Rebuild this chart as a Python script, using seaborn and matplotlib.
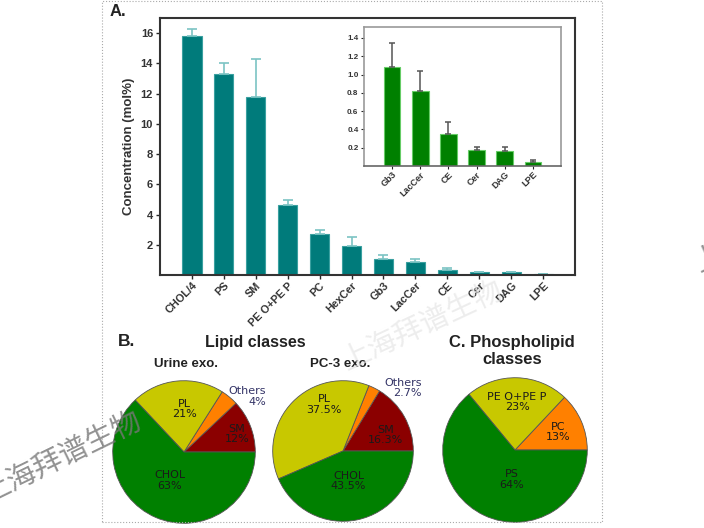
import numpy as np
import matplotlib
matplotlib.use('Agg')
import matplotlib.pyplot as plt
import seaborn as sns
from matplotlib.patches import Rectangle

sns.set_style('white')
plt.rcParams['font.family'] = ['Liberation Sans', 'DejaVu Sans']

# panel A data
lipids = ['CHOL/4', 'PS', 'SM', 'PE O+PE P', 'PC', 'HexCer', 'Gb3', 'LacCer', 'CE', 'Cer', 'DAG', 'LPE']
conc = [15.8, 13.27, 11.78, 4.62, 2.68, 1.95, 1.07, 0.85, 0.36, 0.18, 0.17, 0.04]
conc_err = [0.46, 0.75, 2.5, 0.33, 0.32, 0.55, 0.27, 0.22, 0.13, 0.03, 0.04, 0.02]

minor = ['Gb3', 'LacCer', 'CE', 'Cer', 'DAG', 'LPE']
minor_conc = [1.08, 0.82, 0.35, 0.175, 0.165, 0.04]
minor_err = [0.26, 0.22, 0.13, 0.035, 0.045, 0.022]

# panel B / C data
urine_labels = ['SM\n12%', 'Others\n4%', 'PL\n21%', 'CHOL\n63%']
urine_vals = [12, 4, 21, 63]
pc3_labels = ['SM\n16.3%', 'Others\n2.7%', 'PL\n37.5%', 'CHOL\n43.5%']
pc3_vals = [16.3, 2.7, 37.5, 43.5]
pl_labels = ['PC\n13%', 'PE O+PE P\n23%', 'PS\n64%']
pl_vals = [13, 23, 64]

teal = '#007b7b'
green = '#008000'
olive = '#c8c800'
orange = '#ff8000'
darkred = '#8b0000'

W, H = 704, 528
fig = plt.figure(figsize=(W / 100, H / 100), dpi=100)


def px_axes(left, top, right, bottom):
    return fig.add_axes([left / W, 1 - bottom / H, (right - left) / W, (bottom - top) / H])


# dotted outer frame
fig.patches.append(Rectangle((102 / W, 6 / H), 500 / W, 521 / H, transform=fig.transFigure,
                             fill=False, ls=':', lw=0.8, ec='#aaaaaa'))

# ---- main bars
ax = px_axes(160, 18, 575, 275)
sns.barplot(x=lipids, y=conc, color=teal, width=0.6, saturation=1,
            edgecolor='#3aa0a0', linewidth=0.8, ax=ax)
ax.errorbar(np.arange(len(lipids)), conc, yerr=[np.zeros(len(conc)), conc_err],
            fmt='none', ecolor='#7cc4c4', elinewidth=1.2, capsize=3.5, capthick=1.2, zorder=1)
ax.set_xlim(-1, len(lipids))
ax.set_ylim(0, 17)
ax.set_yticks(range(2, 17, 2))
ax.set_yticks(np.arange(0, 17, 0.5), minor=True)
ax.tick_params(axis='y', which='major', direction='out', length=3, width=1, labelsize=8, pad=2)
ax.tick_params(axis='y', which='minor', direction='out', length=1.5, width=0.8)
ax.tick_params(axis='x', direction='out', length=3, width=1, labelsize=7.8, pad=1)
ax.tick_params(left=True, bottom=True)
for lab in ax.get_yticklabels():
    lab.set_fontweight('bold')
    lab.set_color('#333333')
ax.set_xticks(range(len(lipids)))
ax.set_xticklabels(lipids, rotation=45, ha='right', rotation_mode='anchor',
                   fontweight='bold', color='#333333')
ax.set_ylabel('Concentration (mol%)', fontsize=9.5, fontweight='bold', color='#333333', labelpad=4)
for s in ax.spines.values():
    s.set_color('#333333')
    s.set_linewidth(1.5)
fig.text(110 / W, 1 - 12 / H, 'A.', fontsize=12, fontweight='bold', va='center', color='#222222')

# ---- inset
axi = px_axes(364, 27, 561, 166)
sns.barplot(x=minor, y=minor_conc, color=green, width=0.59, saturation=1,
            edgecolor='#66cc66', linewidth=0.8, ax=axi)
axi.errorbar(np.arange(len(minor)), minor_conc, yerr=[np.zeros(len(minor)), minor_err],
             fmt='none', ecolor='#555555', elinewidth=1.1, capsize=2.5, capthick=1.1, zorder=1)
axi.set_xlim(-1, len(minor))
axi.set_ylim(0, 1.52)
axi.set_yticks(np.arange(0.2, 1.41, 0.2))
axi.set_yticklabels(['%.1f' % v for v in np.arange(0.2, 1.41, 0.2)])
axi.set_yticks(np.arange(0, 1.51, 0.05), minor=True)
axi.tick_params(axis='y', which='major', direction='out', length=2, width=0.8, labelsize=5.8, pad=2)
axi.tick_params(axis='y', which='minor', direction='out', length=1, width=0.6)
axi.tick_params(axis='x', direction='out', length=2, width=0.8, labelsize=6.5, pad=1)
axi.tick_params(left=True, bottom=True)
for lab in axi.get_yticklabels():
    lab.set_fontweight('bold')
    lab.set_color('#333333')
axi.set_xticks(range(len(minor)))
axi.set_xticklabels(minor, rotation=45, ha='right', rotation_mode='anchor',
                    fontweight='bold', color='#333333')
for s in axi.spines.values():
    s.set_color('#999999')
    s.set_linewidth(1.2)
axi.spines['bottom'].set_color('#666666')


# ---- pies
def draw_pie(cx, cy, r, vals, labels, colors, label_pos, label_ha, label_color):
    axp = px_axes(cx - r, cy - r, cx + r, cy + r)
    axp.pie(vals, colors=colors, startangle=0, counterclock=True,
            wedgeprops=dict(edgecolor='#555555', linewidth=0.6))
    axp.set_xlim(-1.01, 1.01)
    axp.set_ylim(-1.01, 1.01)
    for lab, (tx, ty), ha, c in zip(labels, label_pos, label_ha, label_color):
        axp.text(tx, ty, lab, ha=ha, va='center', fontsize=8, color=c,
                 family='DejaVu Sans', linespacing=1.05)
    return axp


dark = '#1a1a1a'
navy = '#333366'
draw_pie(184, 452, 72, urine_vals, urine_labels, [darkred, orange, olive, green],
         [(0.74, 0.25), (1.15, 0.78), (0.01, 0.6), (-0.2, -0.4)],
         ['center', 'right', 'center', 'center'], [dark, navy, dark, dark])
draw_pie(343, 451, 71, pc3_vals, pc3_labels, [darkred, orange, olive, green],
         [(0.6, 0.23), (1.12, 0.9), (-0.27, 0.66), (0.08, -0.43)],
         ['center', 'right', 'center', 'center'], [dark, navy, dark, dark])
draw_pie(515, 450, 73, pl_vals, pl_labels, [orange, olive, green],
         [(0.59, 0.25), (0.03, 0.66), (-0.04, -0.41)],
         ['center', 'center', 'center'], [dark, dark, dark])

fig.text(118 / W, 1 - 341 / H, 'B.', fontsize=12.5, fontweight='bold', va='center', color='#222222')
fig.text(255 / W, 1 - 342 / H, 'Lipid classes', fontsize=11.5, fontweight='bold', ha='center',
         va='center', color='#222222')
fig.text(186 / W, 1 - 364 / H, 'Urine exo.', fontsize=9.5, fontweight='bold', ha='center',
         va='center', color='#222222')
fig.text(340 / W, 1 - 364 / H, 'PC-3 exo.', fontsize=9.5, fontweight='bold', ha='center',
         va='center', color='#222222')
fig.text(512 / W, 1 - 351 / H, 'C. Phospholipid\nclasses', fontsize=12, fontweight='bold',
         ha='center', va='center', color='#222222', linespacing=1.1)

# watermarks
wm = '上海拜谱生物'
fig.text(62 / W, 1 - 458 / H, wm, fontsize=21, rotation=26, ha='center', va='center',
         color='#777777', alpha=0.8, family=['Noto Sans CJK SC', 'DejaVu Sans'])
fig.text(422 / W, 1 - 326 / H, wm, fontsize=21, rotation=25, ha='center', va='center',
         color='#e6e6e6', alpha=0.7, family=['Noto Sans CJK SC', 'DejaVu Sans'])
fig.text(690 / W, 1 - 228 / H, wm, fontsize=21, rotation=25, ha='left', va='center',
         color='#777777', alpha=0.8, family=['Noto Sans CJK SC', 'DejaVu Sans'])

fig.savefig('out.png', dpi=100)
